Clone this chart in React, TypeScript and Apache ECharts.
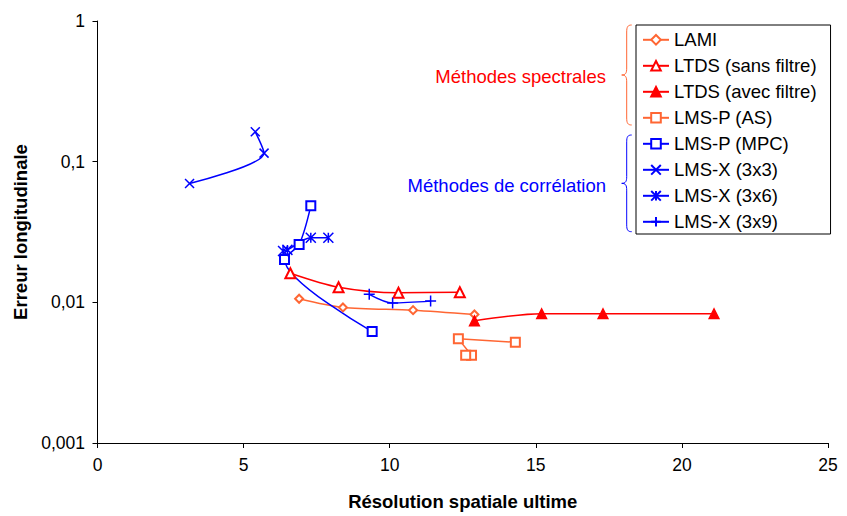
import React, { useEffect, useRef } from "react";
import * as echarts from "echarts";

const seriesNames = [
  "LAMI",
  "LTDS (sans filtre)",
  "LTDS (avec filtre)",
  "LMS-P (AS)",
  "LMS-P (MPC)",
  "LMS-X (3x3)",
  "LMS-X (3x6)",
  "LMS-X (3x9)",
];

const xLAMI = [6.9, 8.4, 10.8, 12.9];
const yLAMI = [0.0106, 0.0092, 0.0088, 0.0082];

const xLTDSsans = [6.6, 8.25, 10.3, 12.4];
const yLTDSsans = [0.0161, 0.0128, 0.0117, 0.0118];

const xLTDSavec = [12.9, 15.2, 17.3, 21.1];
const yLTDSavec = [0.0074, 0.0083, 0.0083, 0.0083];

const xLMSPAS = [14.3, 12.35, 12.8, 12.6];
const yLMSPAS = [0.0052, 0.0055, 0.0042, 0.0042];

const xLMSPMPC = [7.3, 6.9, 6.4, 9.4];
const yLMSPMPC = [0.0485, 0.0258, 0.0202, 0.0062];

const xLMSX33 = [3.15, 5.7, 5.4];
const yLMSX33 = [0.070, 0.115, 0.163];

const xLMSX36 = [6.35, 6.5, 7.3, 7.9];
const yLMSX36 = [0.0232, 0.0236, 0.0288, 0.0288];

const xLMSX39 = [9.3, 10.1, 11.4];
const yLMSX39 = [0.0114, 0.0099, 0.0102];

const xTicks = [0, 5, 10, 15, 20, 25];
const yTicks = ["0,001", "0,01", "0,1", "1"];

const zip = (xs: number[], ys: number[]) => xs.map((x, i) => [x, ys[i]]);

const RED = "#FF0000";
const ORANGE = "#FF6633";
const BLUE = "#0000FF";
const FONT = "'Liberation Sans', Arial, sans-serif";

const CROSS = "path://M0,0L10,10M10,0L0,10";
const STAR = "path://M0,0L10,10M10,0L0,10M5,0L5,10";
const PLUS = "path://M0,5L10,5M5,0L5,10";

const BRACE =
  "M10,0 C6,0 5,2 5,7 L5,43 C5,48 4,50 0,50 C4,50 5,52 5,57 L5,93 C5,98 6,100 10,100";

let registered = false;

export default function App() {
  const ref = useRef<HTMLDivElement>(null);
  useEffect(() => {
    if (!ref.current) return;
    if (!registered) {
      echarts.graphic.registerShape("brace", echarts.graphic.extendPath(BRACE, {}));
      registered = true;
    }
    const chart = echarts.init(ref.current, null, { renderer: "svg" });

    const mk = (
      name: string,
      data: number[][],
      color: string,
      symbol: string,
      size: number,
      pathSym = false
    ) => ({
      name,
      type: "line",
      data,
      smooth: 0.3,
      symbol,
      symbolSize: size,
      showAllSymbol: true,
      lineStyle: { color, width: 1.5 },
      itemStyle: pathSym
        ? { color: "none", borderColor: color, borderWidth: 1.5 }
        : { color, borderColor: color, borderWidth: 1.3 },
      emphasis: { disabled: true },
    });

    chart.setOption({
      animation: false,
      backgroundColor: "#fff",
      textStyle: { fontFamily: FONT },
      grid: { left: 97.5, right: 19, top: 21, bottom: 73, containLabel: false },
      xAxis: {
        type: "value",
        min: xTicks[0],
        max: xTicks[xTicks.length - 1],
        interval: 5,
        name: "Résolution spatiale ultime",
        nameLocation: "middle",
        nameGap: 49,
        nameTextStyle: { fontSize: 18.5, fontWeight: "bold", color: "#000", fontFamily: FONT },
        axisLine: { lineStyle: { color: "#000", width: 1 } },
        axisTick: { length: 5, lineStyle: { color: "#000" } },
        axisLabel: { fontSize: 17.5, color: "#000", margin: 13, fontFamily: FONT },
        splitLine: { show: false },
      },
      yAxis: {
        type: "log",
        logBase: 10,
        min: 0.001,
        max: 1,
        name: "Erreur longitudinale",
        nameLocation: "middle",
        nameGap: 66.5,
        nameTextStyle: { fontSize: 18.5, fontWeight: "bold", color: "#000", fontFamily: FONT },
        axisLine: { show: true, lineStyle: { color: "#000", width: 1 } },
        axisTick: { show: true, length: 5, lineStyle: { color: "#000" } },
        axisLabel: {
          fontSize: 17.5,
          color: "#000",
          margin: 12.5,
          fontFamily: FONT,
          formatter: (v: number) => {
            const i = Math.round(Math.log10(v)) + 3;
            return yTicks[i] ?? String(v).replace(".", ",");
          },
        },
        splitLine: { show: false },
        minorTick: { show: false },
      },
      legend: {
        orient: "vertical",
        left: 636,
        top: 25,
        backgroundColor: "#fff",
        borderColor: "#000",
        borderWidth: 1,
        borderRadius: 0,
        padding: [5.3, 14, 2.7, 6],
        itemWidth: 26,
        itemHeight: 12,
        itemGap: 7.0,
        textStyle: { fontSize: 18.5, lineHeight: 18, color: "#000", fontFamily: FONT },
        data: seriesNames,
      },
      series: [
        mk(seriesNames[0], zip(xLAMI, yLAMI), ORANGE, "emptyDiamond", 8),
        mk(seriesNames[1], zip(xLTDSsans, yLTDSsans), RED, "emptyTriangle", 10),
        mk(seriesNames[2], zip(xLTDSavec, yLTDSavec), RED, "triangle", 10),
        mk(seriesNames[3], zip(xLMSPAS, yLMSPAS), ORANGE, "emptyRect", 9),
        mk(seriesNames[4], zip(xLMSPMPC, yLMSPMPC), BLUE, "emptyRect", 9),
        mk(seriesNames[5], zip(xLMSX33, yLMSX33), BLUE, CROSS, 9, true),
        mk(seriesNames[6], zip(xLMSX36, yLMSX36), BLUE, STAR, 10, true),
        mk(seriesNames[7], zip(xLMSX39, yLMSX39), BLUE, PLUS, 11, true),
      ],
      graphic: [
        {
          type: "brace",
          x: 621.7,
          y: 25,
          scaleX: 1,
          scaleY: 1,
          style: { stroke: ORANGE, fill: "none", lineWidth: 1 },
          silent: true,
        },
        {
          type: "brace",
          x: 621.7,
          y: 135,
          scaleX: 1,
          scaleY: 0.967,
          style: { stroke: BLUE, fill: "none", lineWidth: 1 },
          silent: true,
        },
        {
          type: "text",
          x: 606,
          y: 76.7,
          style: {
            text: "Méthodes spectrales",
            fill: RED,
            fontSize: 18.5,
            fontFamily: FONT,
            align: "right",
            verticalAlign: "middle",
          },
        },
        {
          type: "text",
          x: 606,
          y: 185,
          style: {
            text: "Méthodes de corrélation",
            fill: BLUE,
            fontSize: 18.5,
            fontFamily: FONT,
            align: "right",
            verticalAlign: "middle",
          },
        },
      ],
    });
    return () => chart.dispose();
  }, []);
  return (
    <div
      ref={ref}
      style={{ position: "absolute", left: 0, top: 0, width: 847, height: 516 }}
    />
  );
}
